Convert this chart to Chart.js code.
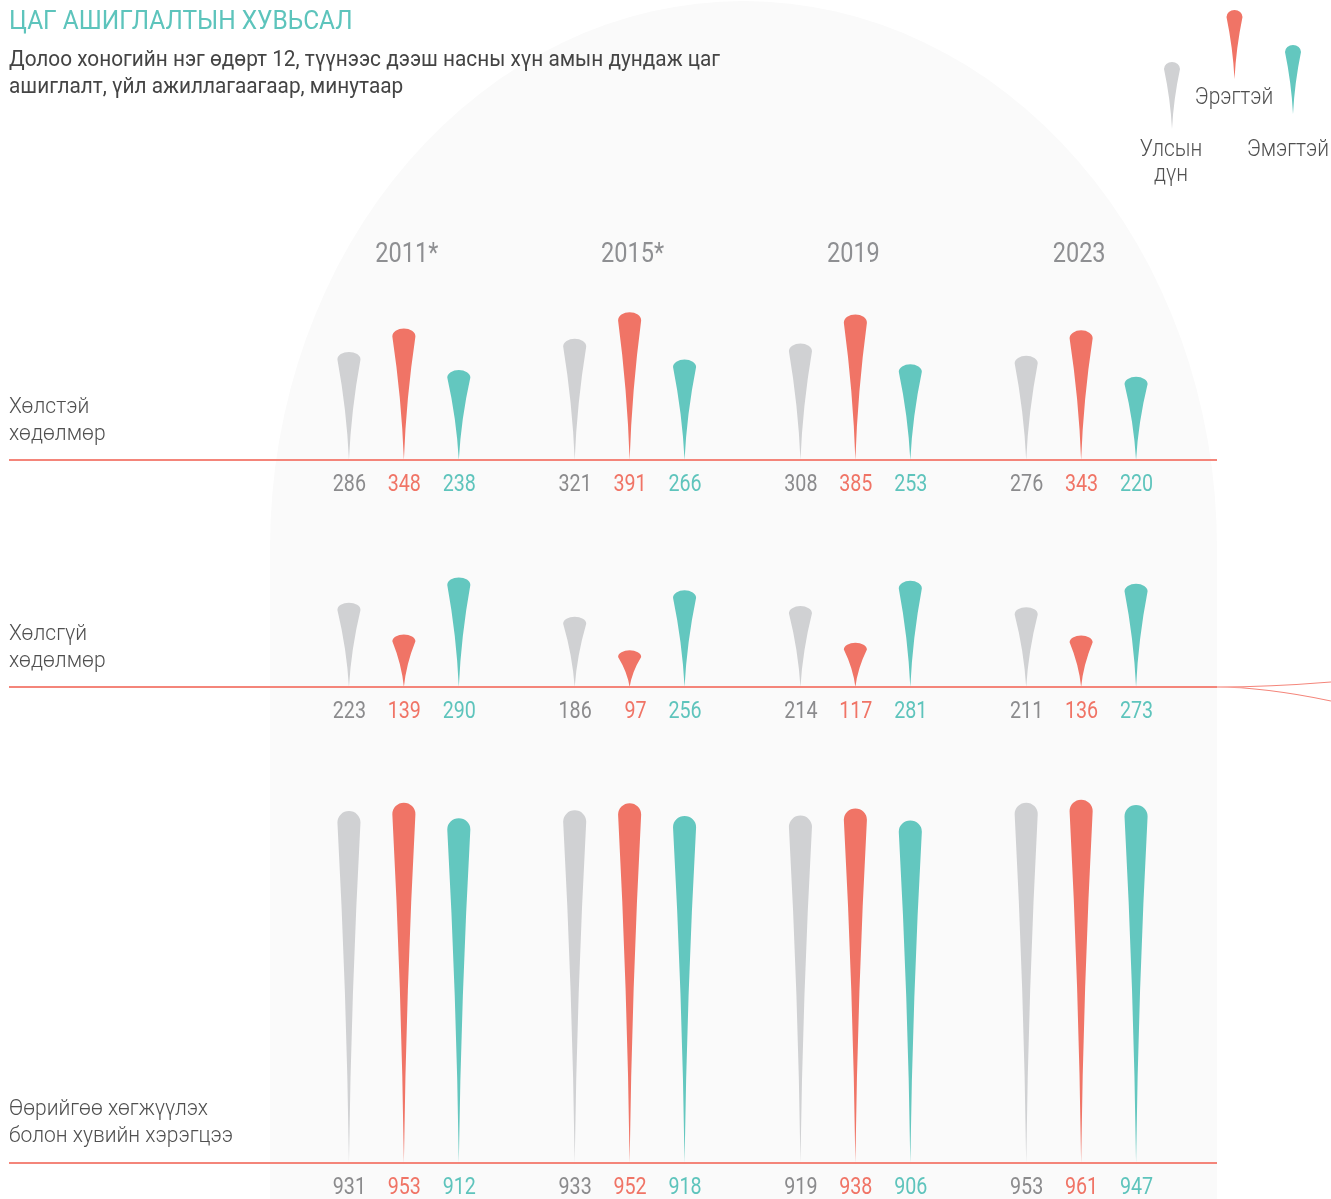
<!DOCTYPE html>
<html>
<head>
<meta charset="utf-8">
<title>Цаг ашиглалтын хувьсал</title>
<script src="https://cdn.jsdelivr.net/npm/chart.js@4.4.1/dist/chart.umd.min.js"></script>
<style>
  body { margin: 0; background: #fff; font-family: Roboto, "Noto Sans", sans-serif; }
  #wrap { position: relative; width: 1331px; height: 1199px; overflow: hidden; }
  #wrap canvas { position: absolute; left: 0; top: 0; }
  .txt { position: absolute; white-space: nowrap; z-index: 2; }
  .title { left: 9px; top: 6px; font-size: 25px; line-height: 30px; color: #5dc4bc; transform: scaleX(0.98); transform-origin: left top; }
  .sub { left: 9px; top: 45px; font-size: 22px; line-height: 27px; color: #444; transform: scaleX(0.945); transform-origin: left top; }
  .row { left: 9px; font-size: 22px; line-height: 27px; font-weight: 300; color: #505050; transform: scaleX(0.955); transform-origin: left top; }
  .leg { width: 120px; text-align: center; font-size: 23px; line-height: 25px; font-weight: 300; color: #505050; transform: scaleX(0.91); transform-origin: center top; }
</style>
</head>
<body>
<div id="wrap">
  <canvas id="chart" width="1331" height="1199"></canvas>
  <div class="txt title">ЦАГ АШИГЛАЛТЫН ХУВЬСАЛ</div>
  <div class="txt sub">Долоо хоногийн нэг өдөрт 12, түүнээс дээш насны хүн амын дундаж цаг<br>ашиглалт, үйл ажиллагаагаар, минутаар</div>
  <div class="txt row" style="top:392px">Хөлстэй<br>хөдөлмөр</div>
  <div class="txt row" style="top:619px">Хөлсгүй<br>хөдөлмөр</div>
  <div class="txt row" style="top:1094px">Өөрийгөө хөгжүүлэх<br>болон хувийн хэрэгцээ</div>
  <div class="txt leg" style="left:1111px; top:136px">Улсын<br>дүн</div>
  <div class="txt leg" style="left:1174px; top:84px">Эрэгтэй</div>
  <div class="txt leg" style="left:1228px; top:136px">Эмэгтэй</div>
</div>
<script>
const years = ['2011*', '2015*', '2019', '2023'];
const seriesNames = ['Улсын дүн', 'Эрэгтэй', 'Эмэгтэй'];

// Хөлстэй хөдөлмөр
const paidTotal = [286, 321, 308, 276];
const paidMale = [348, 391, 385, 343];
const paidFemale = [238, 266, 253, 220];

// Хөлсгүй хөдөлмөр
const unpaidTotal = [223, 186, 214, 211];
const unpaidMale = [139, 97, 117, 136];
const unpaidFemale = [290, 256, 281, 273];

// Өөрийгөө хөгжүүлэх болон хувийн хэрэгцээ
const selfTotal = [931, 933, 919, 953];
const selfMale = [953, 952, 938, 961];
const selfFemale = [912, 918, 906, 947];

const spikeColors = ['#d0d1d3', '#f07466', '#63c7bf'];
const labelColors = ['#8b8b8d', '#f07466', '#5ec4bc'];
const lineColor = '#f4857a';

const H = 1199;
const pxPerMin = 0.378;

const panels = [
    { axis: 'yPaid', base: 460, series: [paidTotal, paidMale, paidFemale] },
    { axis: 'yUnpaid', base: 687, series: [unpaidTotal, unpaidMale, unpaidFemale] },
    { axis: 'ySelf', base: 1163, series: [selfTotal, selfMale, selfFemale] }
];

const datasets = [];
const scales = { x: { type: 'category', display: false } };
panels.forEach(p => {
    scales[p.axis] = {
        type: 'linear',
        display: false,
        min: -(H - p.base) / pxPerMin,
        max: p.base / pxPerMin
    };
    p.series.forEach((values, s) => {
        datasets.push({
            label: seriesNames[s],
            data: values,
            yAxisID: p.axis,
            stack: 's' + s,
            backgroundColor: 'rgba(0,0,0,0)',
            borderWidth: 0,
            barPercentage: 0.42,
            categoryPercentage: 0.73,
            spikeColor: spikeColors[s],
            labelColor: labelColors[s]
        });
    });
});

function spikePath(ctx, x, top, base, w) {
    const hw = w / 2;
    const h = base - top;
    const cap = Math.min(hw, 6 + h * 0.015);
    const shoulder = top + cap;
    const mid = (base + shoulder) / 2;
    ctx.beginPath();
    ctx.moveTo(x, base);
    ctx.quadraticCurveTo(x - hw * 0.2, mid, x - hw, shoulder);
    ctx.ellipse(x, shoulder, hw, cap, 0, Math.PI, 2 * Math.PI);
    ctx.quadraticCurveTo(x + hw * 0.2, mid, x, base);
    ctx.closePath();
}

function condensedText(ctx, text, x, y, scale, align) {
    ctx.save();
    ctx.translate(x, y);
    ctx.scale(scale, 1);
    ctx.textAlign = align;
    ctx.fillText(text, 0, 0);
    ctx.restore();
}

const spikePlugin = {
    id: 'spikes',
    beforeDraw(chart) {
        const ctx = chart.ctx;
        ctx.save();
        ctx.fillStyle = '#fafafa';
        ctx.beginPath();
        ctx.moveTo(270, H);
        ctx.lineTo(270, 548);
        ctx.ellipse(743.5, 548, 473.5, 547, 0, Math.PI, 2 * Math.PI);
        ctx.lineTo(1217, H);
        ctx.closePath();
        ctx.fill();
        ctx.restore();
    },
    afterDatasetsDraw(chart) {
        const ctx = chart.ctx;
        ctx.save();
        chart.data.datasets.forEach((ds, i) => {
            const meta = chart.getDatasetMeta(i);
            meta.data.forEach((el, j) => {
                ctx.fillStyle = ds.spikeColor;
                spikePath(ctx, el.x, el.y, el.base, el.width);
                ctx.fill();
                ctx.fillStyle = ds.labelColor;
                ctx.font = '400 24px Roboto';
                ctx.textBaseline = 'alphabetic';
                condensedText(ctx, String(ds.data[j]), el.x + 17, el.base + 30.5, 0.82, 'right');
            });
        });

        // baselines
        ctx.strokeStyle = lineColor;
        ctx.lineWidth = 2;
        panels.forEach(p => {
            const y = chart.scales[p.axis].getPixelForValue(0);
            ctx.beginPath();
            ctx.moveTo(9, y);
            ctx.lineTo(1217, y);
            ctx.stroke();
        });
        const ym = chart.scales[panels[1].axis].getPixelForValue(0);
        ctx.lineWidth = 1.2;
        ctx.beginPath();
        ctx.moveTo(1215, ym);
        ctx.quadraticCurveTo(1270, ym, 1331, ym - 5);
        ctx.moveTo(1215, ym);
        ctx.quadraticCurveTo(1265, ym, 1331, ym + 14);
        ctx.stroke();

        // year labels
        const xs = chart.scales.x;
        ctx.fillStyle = '#8e8f92';
        ctx.font = '400 28px Roboto';
        years.forEach((yr, i) => {
            condensedText(ctx, yr, xs.getPixelForValue(i) + (yr.endsWith('*') ? 3 : -2), 262, 0.84, 'center');
        });

        // legend
        const legend = [[1172, 62, 129], [1234.5, 10, 79], [1293, 45, 114]];
        legend.forEach((l, s) => {
            ctx.fillStyle = spikeColors[s];
            spikePath(ctx, l[0], l[1], l[2], 16);
            ctx.fill();
        });
        ctx.restore();
    }
};

new Chart(document.getElementById('chart'), {
    type: 'bar',
    data: { labels: years, datasets: datasets },
    options: {
        responsive: false,
        animation: false,
        layout: { padding: { left: 291, right: 137, top: 0, bottom: 0 } },
        scales: scales,
        plugins: {
            legend: { display: false },
            tooltip: { enabled: false }
        }
    },
    plugins: [spikePlugin]
});
</script>
</body>
</html>
